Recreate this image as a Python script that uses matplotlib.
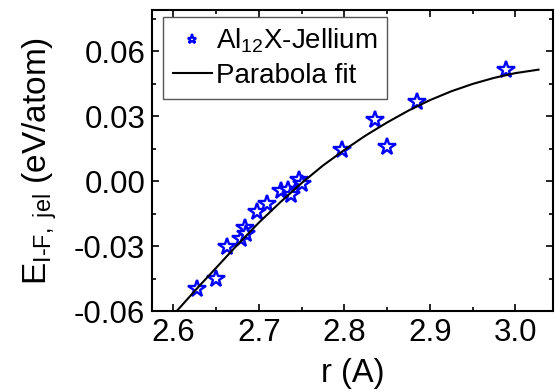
import numpy as np
import matplotlib
matplotlib.use("Agg")
from matplotlib import pyplot as plt

plt.rcParams['font.family'] = ['Liberation Sans', 'DejaVu Sans']
plt.rcParams['mathtext.fontset'] = 'custom'
plt.rcParams['mathtext.rm'] = 'Liberation Sans'
plt.rcParams['mathtext.it'] = 'Liberation Sans'

# data points Al12X-Jellium
r = [2.6274, 2.6496, 2.6632, 2.6788, 2.6835, 2.6847, 2.6983, 2.7100,
     2.7260, 2.7340, 2.7370, 2.7474, 2.7502, 2.7973, 2.8363, 2.8496,
     2.8847, 2.9891]
e = [-0.0497, -0.0450, -0.0303, -0.0266, -0.0217, -0.0246, -0.0140, -0.0106,
     -0.0046, -0.0040, -0.0064, 0.0008, -0.0012, 0.0143, 0.0285, 0.0157,
     0.0365, 0.0516]

# parabola fit curve
r_fit = [2.605, 2.63, 2.65, 2.675, 2.70, 2.725, 2.75, 2.775, 2.80, 2.825,
         2.85, 2.875, 2.90, 2.925, 2.95, 2.975, 3.00, 3.027]
e_fit = [-0.0595, -0.0485, -0.0400, -0.0293, -0.0191, -0.0097, -0.0008, 0.0073,
         0.0145, 0.0212, 0.0272, 0.0327, 0.0375, 0.0416, 0.0450, 0.0478,
         0.0500, 0.0516]

fig = plt.figure(figsize=(5.55, 3.92), dpi=100)
ax = fig.add_axes([0.274, 0.2066, 0.7225, 0.768])

stars, = ax.plot(r, e, linestyle='none', marker='*', markersize=13,
                 markerfacecolor='white', markeredgecolor='blue',
                 markeredgewidth=1.7, label='Al$_{12}$X-Jellium')
fit, = ax.plot(r_fit, e_fit, '-k', lw=1.5, label='Parabola fit')

ax.set_xlim(2.575, 3.044)
ax.set_ylim(-0.06, 0.0792)
ax.set_xticks([2.6, 2.7, 2.8, 2.9, 3.0])
ax.set_xticks(np.arange(2.6, 3.05, 0.05), minor=True)
ax.set_yticks([-0.06, -0.03, 0.0, 0.03, 0.06])
ax.set_yticks(np.arange(-0.06, 0.08, 0.015), minor=True)
ax.set_xticklabels(['2.6', '2.7', '2.8', '2.9', '3.0'])
ax.set_yticklabels(['-0.06', '-0.03', '0.00', '0.03', '0.06'])

ax.tick_params(which='both', direction='in', top=True, right=True,
               labelsize=22.5, width=1.2)
ax.tick_params(which='major', length=5, pad=5)
ax.tick_params(which='minor', length=3)
for s in ax.spines.values():
    s.set_linewidth(1.5)

ax.set_xlabel('r (A)', fontsize=23.5, labelpad=7)
ax.set_ylabel(r'E$_{\mathrm{I\text{-}F,\ jel}}$ (eV/atom)', fontsize=24, labelpad=11)

leg = ax.legend(loc='upper left', bbox_to_anchor=(0.028, 0.978), borderaxespad=0,
                fontsize=20, fancybox=False, edgecolor='#555555', framealpha=1,
                markerscale=0.5, handlelength=1.4, handletextpad=0.15,
                borderpad=0.35, labelspacing=0.3)
leg.get_frame().set_linewidth(1.0)

plt.savefig('out.png', dpi=100)
